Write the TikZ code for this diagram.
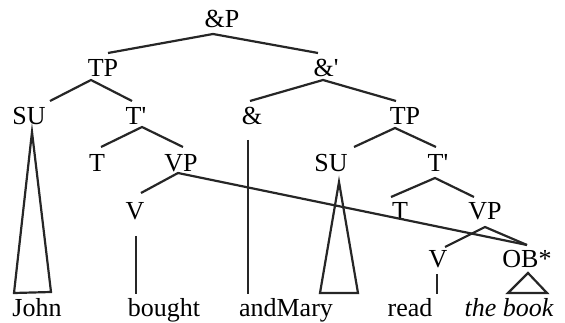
\documentclass[tikz,border=0pt]{standalone}
\usepackage{fontspec}
\setmainfont{Liberation Serif}
\begin{document}
\begin{tikzpicture}[x=1pt,y=-1pt,
  lbl/.style={anchor=base,inner sep=0pt,font=\fontsize{26}{30}\selectfont},
  br/.style={line width=2.2pt,draw=black!85}]
\useasboundingbox (0,0) rectangle (565,323);
% nodes
\node[lbl] (ampP) at (222,28) {\&P};
\node[lbl] (TPa) at (103,77) {TP};
\node[lbl] (ampbar) at (326,77) {\&\textquotesingle};
\node[lbl] (SUa) at (29,125) {SU};
\node[lbl] (Tba) at (136,125) {T\textquotesingle};
\node[lbl] (amp) at (252,125) {\&};
\node[lbl] (TPb) at (405,125) {TP};
\node[lbl] (Ta) at (97,172) {T};
\node[lbl] (VPa) at (181,172) {VP};
\node[lbl] (SUb) at (331,172) {SU};
\node[lbl] (Tbb) at (438,172) {T\textquotesingle};
\node[lbl] (Va) at (135,220) {V};
\node[lbl] (Tb) at (400,220) {T};
\node[lbl] (VPb) at (485,220) {VP};
\node[lbl] (Vb) at (438,267) {V};
\node[lbl] (OB) at (527,267) {OB*};
\node[lbl] (john) at (37,316) {John};
\node[lbl] (bought) at (164,316) {bought};
\node[lbl] (andmary) at (286,316) {andMary};
\node[lbl] (read) at (410,316) {read};
\node[lbl] (book) at (509,316) {\itshape the book};
% branches
\draw[br] ([shift={(5,-24)}]TPa.base) -- ([shift={(-9,6)}]ampP.base) -- ([shift={(-8,-24)}]ampbar.base);
\draw[br] ([shift={(21,-24)}]SUa.base) -- ([shift={(-12,3)}]TPa.base) -- ([shift={(-4,-24)}]Tba.base);
\draw[br] ([shift={(4,-25)}]Ta.base) -- ([shift={(6,2)}]Tba.base) -- ([shift={(2,-25)}]VPa.base);
\draw[br] ([shift={(-2,-24)}]amp.base) -- ([shift={(-3,3)}]ampbar.base) -- ([shift={(-9,-24)}]TPb.base);
\draw[br] ([shift={(23,-25)}]SUb.base) -- ([shift={(-10,3)}]TPb.base) -- ([shift={(-2,-25)}]Tbb.base);
\draw[br] ([shift={(6,-27)}]Va.base) -- ([shift={(-3,1)}]VPa.base) -- ([shift={(0,-22)}]OB.base);
\draw[br] ([shift={(-9,-23)}]Tb.base) -- ([shift={(-3,6)}]Tbb.base) -- ([shift={(-11,-23)}]VPb.base);
\draw[br] ([shift={(7,-20)}]Vb.base) -- ([shift={(0,7)}]VPb.base) -- ([shift={(0,-22)}]OB.base);
% terminals
\draw[br] ([shift={(1,16)}]Va.base) -- ([shift={(-28,-22)}]bought.base);
\draw[br] ([shift={(-4,15)}]amp.base) -- ([shift={(-38,-22)}]andmary.base);
\draw[br] ([shift={(-1,7)}]Vb.base) -- ([shift={(27,-22)}]read.base);
\draw[br] ([shift={(3,7)}]SUa.base) -- ([shift={(-23,-23)}]john.base) -- ([shift={(14,-24)}]john.base) -- cycle;
\draw[br] ([shift={(8,10)}]SUb.base) -- ([shift={(34,-23)}]andmary.base) -- ([shift={(72,-23)}]andmary.base) -- cycle;
\draw[br] ([shift={(1,6)}]OB.base) -- ([shift={(-1,-23)}]book.base) -- ([shift={(38,-23)}]book.base) -- cycle;
\end{tikzpicture}
\end{document}
